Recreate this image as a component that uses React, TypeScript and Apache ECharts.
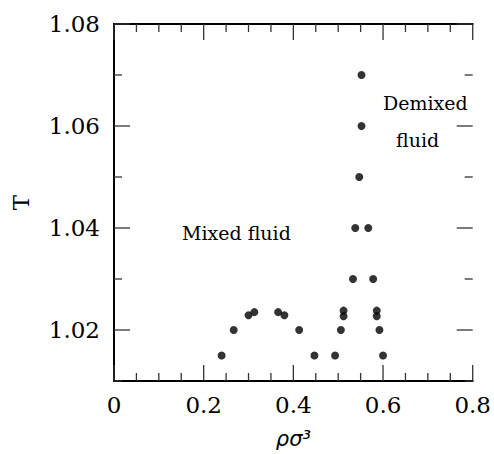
import React, { useEffect, useRef } from "react";
import * as echarts from "echarts";

const rho = [
  0.240, 0.267, 0.300, 0.313, 0.366, 0.380, 0.413, 0.447, 0.493, 0.506,
  0.512, 0.512, 0.533, 0.578, 0.586, 0.586, 0.592, 0.600, 0.538, 0.567,
  0.547, 0.552, 0.552,
];
const temp = [
  1.015, 1.020, 1.0229, 1.0235, 1.0235, 1.0229, 1.020, 1.015, 1.015, 1.020,
  1.0238, 1.0227, 1.030, 1.030, 1.0238, 1.0227, 1.020, 1.015, 1.040, 1.040,
  1.050, 1.060, 1.070,
];
const yLabelValues = [1.02, 1.04, 1.06, 1.08];
const xMajorTicks = [0, 0.2, 0.4, 0.6, 0.8];
const xMinorTicks = [0.05, 0.1, 0.15, 0.25, 0.3, 0.35, 0.45, 0.5, 0.55, 0.65, 0.7, 0.75];
const yMajorTicks = [1.02, 1.04, 1.06, 1.08];
const yMinorTicks = [1.01, 1.03, 1.05, 1.07];

const FONT = "DejaVu Serif";
const X_MIN = 0, X_MAX = 0.8, Y_MIN = 1.01, Y_MAX = 1.08;

function buildOption() {
  const mkLine = () => ({ show: true, lineStyle: { color: "#000", width: 2 } });
  const xC = () => ({
    type: "value", min: X_MIN, max: X_MAX, interval: 0.2,
    splitLine: { show: false },
    axisLine: mkLine(),
    axisTick: { show: false },
  });
  const yC = () => ({
    type: "value", min: Y_MIN, max: Y_MAX,
    splitLine: { show: false },
    axisLine: mkLine(),
    axisTick: { show: false },
  });
  const tickData: number[][] = [
    ...xMajorTicks.map((v) => [0, v, 16]),
    ...xMinorTicks.map((v) => [0, v, 8]),
    ...yMajorTicks.map((v) => [1, v, 16]),
    ...yMinorTicks.map((v) => [1, v, 8]),
  ];
  const tickStyle = { stroke: "#333", lineWidth: 1.3 };
  return {
    animation: false,
    backgroundColor: "#fff",
    grid: { left: 114, right: 18, top: 24, bottom: 68 },
    graphic: [
      { type: "text", x: 182, y: 223, style: { text: "Mixed fluid", fontFamily: FONT, fontSize: 19, fill: "#000" } },
      { type: "text", x: 383, y: 93, style: { text: "Demixed", fontFamily: FONT, fontSize: 19, fill: "#000" } },
      { type: "text", x: 396, y: 130, style: { text: "fluid", fontFamily: FONT, fontSize: 19, fill: "#000" } },
    ],
    xAxis: [
      {
        ...xC(), position: "bottom",
        name: "ρσ³", nameLocation: "middle", nameGap: 47,
        nameTextStyle: { fontFamily: "DejaVu Sans", fontSize: 21, fontStyle: "italic", color: "#000" },
        axisLabel: { fontSize: 23, fontFamily: FONT, color: "#000", margin: 12 },
      },
      { ...xC(), position: "top", axisLabel: { show: false } },
    ],
    yAxis: [
      {
        ...yC(), position: "left",
        name: "T", nameLocation: "middle", nameGap: 82,
        nameTextStyle: { fontFamily: FONT, fontSize: 23, color: "#000" },
        axisLabel: { fontSize: 23, fontFamily: FONT, color: "#000", margin: 14, customValues: yLabelValues },
      },
      { ...yC(), position: "right", axisLabel: { show: false } },
    ],
    series: [
      {
        type: "custom",
        xAxisIndex: 0, yAxisIndex: 0,
        silent: true,
        clip: false,
        z: 1,
        data: tickData,
        renderItem: (_params: any, api: any) => {
          const kind = api.value(0);
          const v = api.value(1);
          const len = api.value(2);
          if (kind === 0) {
            const b = api.coord([v, Y_MIN]);
            const t = api.coord([v, Y_MAX]);
            return {
              type: "group",
              children: [
                { type: "line", shape: { x1: b[0], y1: b[1], x2: b[0], y2: b[1] - len }, style: tickStyle },
                { type: "line", shape: { x1: t[0], y1: t[1], x2: t[0], y2: t[1] + len }, style: tickStyle },
              ],
            };
          }
          const l = api.coord([X_MIN, v]);
          const r = api.coord([X_MAX, v]);
          return {
            type: "group",
            children: [
              { type: "line", shape: { x1: l[0], y1: l[1], x2: l[0] + len, y2: l[1] }, style: tickStyle },
              { type: "line", shape: { x1: r[0], y1: r[1], x2: r[0] - len, y2: r[1] }, style: tickStyle },
            ],
          };
        },
      },
      {
        type: "scatter", xAxisIndex: 0, yAxisIndex: 0,
        symbol: "circle", symbolSize: 8,
        z: 3,
        itemStyle: { color: "#000" },
        data: rho.map((r, i) => [r, temp[i]]),
      },
    ],
  };
}

export default function App() {
  const ref = useRef<HTMLDivElement>(null);
  useEffect(() => {
    if (!ref.current) return;
    const chart = echarts.init(ref.current, null, { renderer: "svg" });
    chart.setOption(buildOption());
    return () => chart.dispose();
  }, []);
  return <div ref={ref} style={{ width: 494, height: 454, position: "fixed", left: 0, top: 0 }} />;
}
